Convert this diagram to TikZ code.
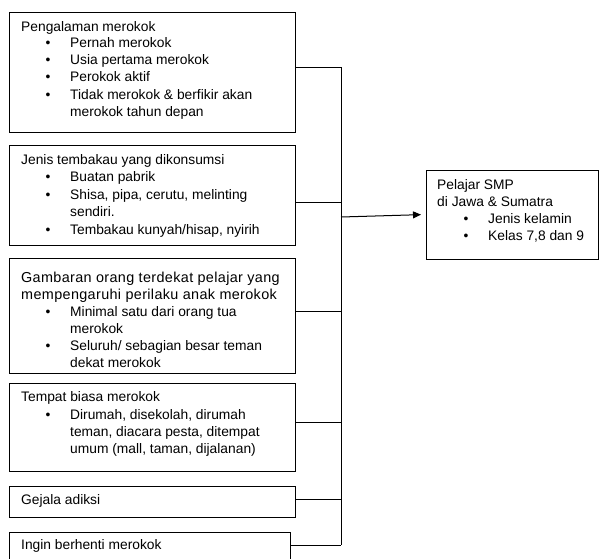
\documentclass[tikz,border=0pt]{standalone}
\usepackage{fontspec}
\setmainfont{Liberation Sans}
\newfontfamily\widefont[LetterSpace=2.5]{Liberation Sans}
\usetikzlibrary{arrows.meta}
\newcommand\Ln[3]{\node[txt] (#1) at (#2) {#3};}
\newcommand\Lb[3]{\node[txt, font=\widefont\fontsize{14.4}{17}\selectfont] (#1) at (#2) {#3};}
\newcommand\Bu[2]{\node[bul] (#1) at (#2) {\textbullet};}
\begin{document}
\begin{tikzpicture}[x=1pt,y=-1pt,
  box/.style={draw=black, line width=1pt, rectangle, inner sep=0pt, outer sep=0pt, anchor=north west},
  txt/.style={anchor=base west, inner sep=0pt, font=\fontsize{13.8}{16}\selectfont, text=black},
  bul/.style={anchor=base, inner sep=0pt, font=\fontsize{13.8}{16}\selectfont, text=black},
  link/.style={draw=black, line width=1pt}]
\useasboundingbox (0,0) rectangle (600,558);
% boxes
\node[box, minimum width=286pt, minimum height=120pt] (b1) at (9,12) {};
\node[box, minimum width=286pt, minimum height=100pt] (b2) at (9,145) {};
\node[box, minimum width=286pt, minimum height=115pt] (b3) at (9,258) {};
\node[box, minimum width=286pt, minimum height=88pt] (b4) at (9,383) {};
\node[box, minimum width=286pt, minimum height=31pt] (b5) at (9,486) {};
\node[box, minimum width=281pt, minimum height=30pt] (b6) at (9,532) {};
\node[box, minimum width=172pt, minimum height=89pt] (t) at (426,170) {};
% box 1 text
\Ln{a0}{21,31}{Pengalaman merokok}
\Bu{a1b}{48,47.5}\Ln{a1}{70,47.5}{Pernah merokok}
\Bu{a2b}{48,64.5}\Ln{a2}{70,64.5}{Usia pertama merokok}
\Bu{a3b}{48,81.5}\Ln{a3}{70,81.5}{Perokok aktif}
\Bu{a4b}{48,99}\Ln{a4}{70,99}{Tidak merokok \& berfikir akan}
\Ln{a5}{70,116}{merokok tahun depan}
% box 2 text
\Ln{c0}{21,164}{Jenis tembakau yang dikonsumsi}
\Bu{c1b}{48,181.5}\Ln{c1}{70,181.5}{Buatan pabrik}
\Bu{c2b}{48,199}\Ln{c2}{70,199}{Shisa, pipa, cerutu, melinting}
\Ln{c3}{70,216.5}{sendiri.}
\Bu{c4b}{48,234}\Ln{c4}{70,234}{Tembakau kunyah/hisap, nyirih}
% box 3 text
\Lb{d0}{21,282.5}{Gambaran orang terdekat pelajar yang}
\Lb{d1}{21,299.5}{mempengaruhi perilaku anak merokok}
\Bu{d2b}{48,316.5}\Ln{d2}{70,316.5}{Minimal satu dari orang tua}
\Ln{d3}{70,333.5}{merokok}
\Bu{d4b}{48,350.5}\Ln{d4}{70,350.5}{Seluruh/ sebagian besar teman}
\Ln{d5}{70,367.5}{dekat merokok}
% box 4 text
\Ln{e0}{21,401.5}{Tempat biasa merokok}
\Bu{e1b}{48,419}\Ln{e1}{70,419}{Dirumah, disekolah, dirumah}
\Ln{e2}{70,436}{teman, diacara pesta, ditempat}
\Ln{e3}{70,453}{umum (mall, taman, dijalanan)}
% box 5, 6 text
\Ln{f0}{21,504}{Gejala adiksi}
\Ln{g0}{21,549.5}{Ingin berhenti merokok}
% target text
\Ln{h0}{437,189}{Pelajar SMP}
\Ln{h1}{437,206}{di Jawa \& Sumatra}
\Bu{h2b}{466,223}\Ln{h2}{488,223}{Jenis kelamin}
\Bu{h3b}{466,240.5}\Ln{h3}{488,240.5}{Kelas 7,8 dan 9}
% bus and connectors
\coordinate (p1) at (341,67);
\coordinate (p2) at (341,202);
\coordinate (p3) at (341,311);
\coordinate (p4) at (341,422);
\coordinate (p5) at (341,499);
\coordinate (p6) at (341,545);
\coordinate (pa) at (341,217);
\draw[link] (p1) -- (p6);
\draw[link] (b1.east |- p1) -- (p1);
\draw[link] (b2.east |- p2) -- (p2);
\draw[link] (b3.east |- p3) -- (p3);
\draw[link] (b4.east |- p4) -- (p4);
\draw[link] (b5.east |- p5) -- (p5);
\draw[link] (b6.east |- p6) -- (p6);
\draw[link, -{Triangle[length=8pt,width=7pt]}, shorten >=5pt] (pa) -- (t.west);
\end{tikzpicture}
\end{document}
